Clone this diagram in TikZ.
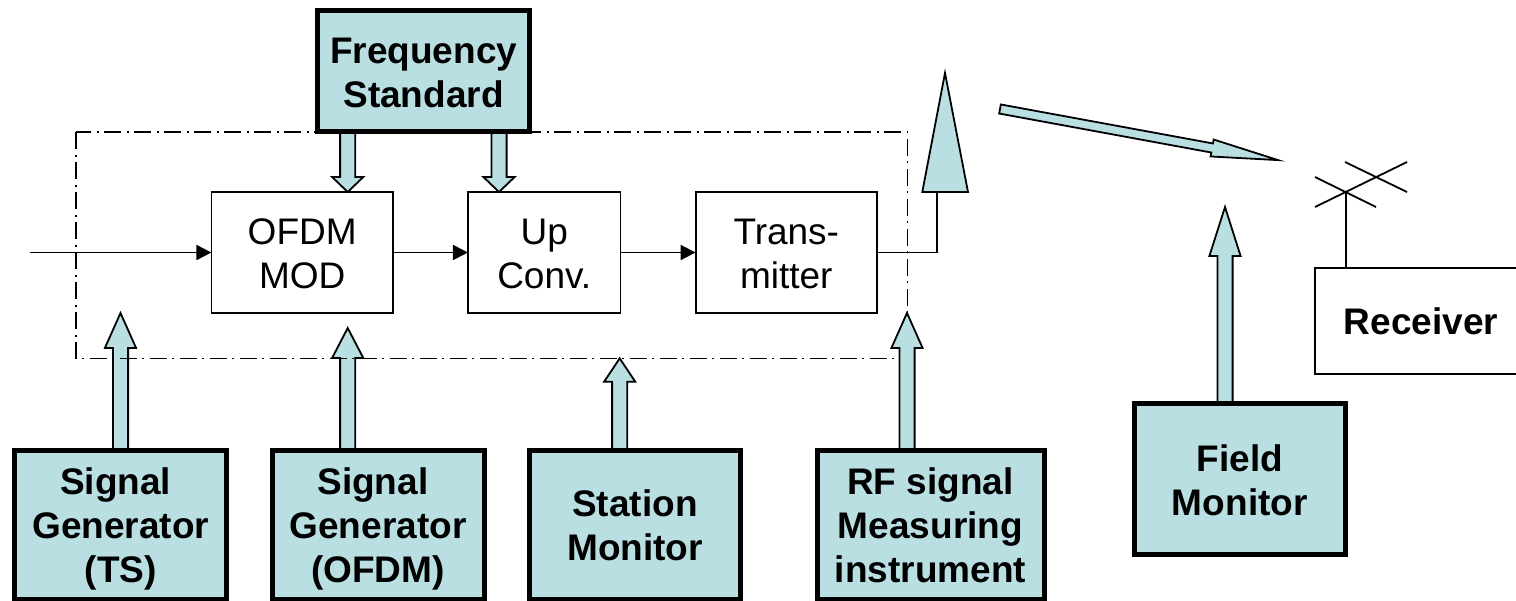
\documentclass[tikz,border=0pt]{standalone}
\usepackage{fontspec}
\setmainfont{Liberation Sans}
\usetikzlibrary{calc,arrows.meta,backgrounds}
\definecolor{panel}{HTML}{B9DFE3}
\newcommand{\droptext}[2]{\vbox{\kern #1\kern #1\hbox{\begin{tabular}{@{}c@{}}#2\end{tabular}}}}
\tikzset{
  thinbox/.style={draw=black,line width=1.8pt,fill=white,inner sep=0pt,outer sep=0pt,
    font=\fontsize{37pt}{44pt}\selectfont},
  heavybox/.style={draw=black,line width=5pt,fill=panel,inner sep=0pt,outer sep=0pt,
    font=\fontsize{37pt}{44pt}\selectfont\bfseries},
  wire/.style={line width=1.8pt,black},
  flow/.style={wire,-{Triangle[length=15pt,width=15pt]}},
  blockarrow/.style n args={3}{draw=black,line width=1.8pt,fill=panel,miter limit=10,
    to path={
      ($(\tikztotarget)!#1!(\tikztostart)$) coordinate (bh)
      ($(\tikztostart)!#2!90:(\tikztotarget)$) -- ($(bh)!#2!90:(\tikztotarget)$)
      -- ($(bh)!#3!90:(\tikztotarget)$) -- (\tikztotarget)
      -- ($(bh)!#3!-90:(\tikztotarget)$) -- ($(bh)!#2!-90:(\tikztotarget)$)
      -- ($(\tikztostart)!#2!-90:(\tikztotarget)$) -- cycle}},
  dashframe/.style={line width=1.6pt,black,dash pattern=on 17pt off 5.5pt on 2pt off 5.5pt},
}
\begin{document}
\begin{tikzpicture}[x=1pt,y=-1pt]
\useasboundingbox (0,0) rectangle (1516,600);
% nodes
\node[heavybox,minimum width=211.7pt,minimum height=120.7pt] (freq) at (423.6,71.1) {\droptext{6pt}{Frequency\\Standard}};
\node[thinbox,minimum width=181.6pt,minimum height=121.6pt] (ofdm) at (302.2,252.5) {\droptext{5pt}{OFDM\\MOD}};
\node[thinbox,minimum width=152.5pt,minimum height=121.6pt] (up) at (544.2,252.5) {\droptext{5pt}{Up\\Conv.}};
\node[thinbox,minimum width=181.4pt,minimum height=121.6pt] (tx) at (786.3,252.5) {\droptext{5pt}{Trans-\\mitter}};
\node[thinbox,font=\fontsize{37pt}{44pt}\selectfont\bfseries,minimum width=212pt,minimum height=106.3pt] (rx) at (1421,320.9) {\droptext{5pt}{Receiver}};
\node[heavybox,minimum width=211.9pt,minimum height=149pt] (sgts) at (120.7,524.5) {\droptext{5pt}{Signal\kern10.3pt\\Generator\\(TS)}};
\node[heavybox,minimum width=212pt,minimum height=149pt] (sgofdm) at (378,524.5) {\droptext{5pt}{Signal\kern10.3pt\\Generator\\(OFDM)}};
\node[heavybox,minimum width=211pt,minimum height=149pt] (station) at (635,524.5) {\droptext{5pt}{Station\\Monitor}};
\node[heavybox,minimum width=227pt,minimum height=149pt] (rf) at (930.5,524.5) {\droptext{5pt}{RF signal\\Measuring\\instrument}};
\node[heavybox,minimum width=211.3pt,minimum height=150.5pt] (field) at (1239.8,479.2) {\droptext{5pt}{Field\\Monitor}};
% named free points
\coordinate (in) at (30,252.5);
\coordinate (ant) at (937,192);
\coordinate (anttip) at (945,73);
\coordinate (antl) at (922.3,192);
\coordinate (antr) at (968,192);
\coordinate (a1) at (120.5,313);
\coordinate (a2) at (347.7,328);
\coordinate (a3) at (619.7,358.3);
\coordinate (a4) at (907,313);
\coordinate (a5) at (1225,207);
\coordinate (f1) at (347.7,192);
\coordinate (f2) at (499,192);
\coordinate (beamA) at (1000,109);
\coordinate (beamB) at (1278,160.1);
\coordinate (mast) at (1346,192);
\begin{scope}[on background layer]
  \draw[blockarrow={35pt}{7.6pt}{15.6pt}] (sgts.north -| a1) to (a1);
  \draw[blockarrow={30pt}{7.6pt}{15.6pt}] (sgofdm.north -| a2) to (a2);
  \draw[blockarrow={23.5pt}{7.6pt}{15.6pt}] (station.north -| a3) to (a3);
  \draw[blockarrow={49pt}{7.6pt}{15.6pt}] (field.north -| a5) to (a5);
  \draw[blockarrow={15pt}{7.6pt}{15.6pt}] (freq.south -| f1) to (f1);
  \draw[blockarrow={15pt}{7.6pt}{15.6pt}] (freq.south -| f2) to (f2);
  \draw[dashframe] (76,132) rectangle (907.3,358.3);
  \draw[blockarrow={35pt}{7.6pt}{15.6pt}] (rf.north -| a4) to (a4);
\end{scope}
\draw[blockarrow={67pt}{4.6pt}{8.6pt}] (beamA) to (beamB);
\draw[line width=1.8pt,fill=panel] (anttip) -- (antr) -- (antl) -- cycle;
\draw[flow] (in) -- (ofdm.west);
\draw[flow] (ofdm.east) -- (up.west);
\draw[flow] (up.east) -- (tx.west);
\draw[wire] (tx.east) -| (ant);
\draw[wire] (rx.north -| mast) -- (mast);
\draw[wire] (1315,207) -- (1407,162);
\draw[wire] (1315,177) -- (1376,207);
\draw[wire] (1345,162) -- (1407,192);
\end{tikzpicture}
\end{document}
